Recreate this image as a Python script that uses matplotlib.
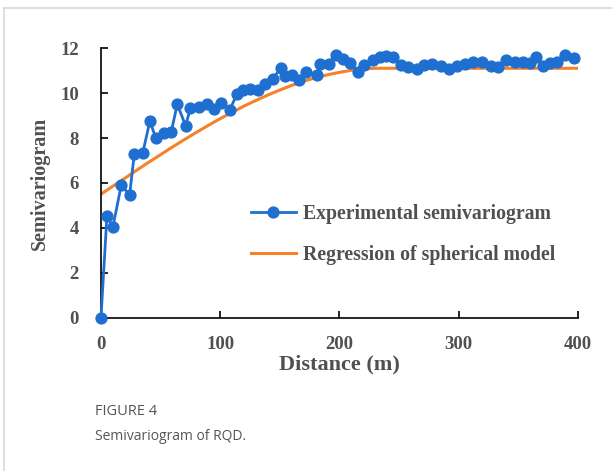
import matplotlib.pyplot as plt
from matplotlib.lines import Line2D

# experimental semivariogram (distance m, semivariance)
lag_dist = [0, 5, 10, 17, 24, 28, 35, 41, 46, 53, 59, 64, 71, 75, 82, 89, 95,
            101, 108, 114, 119, 125, 132, 138, 144, 151, 154, 160, 166, 172,
            181, 184, 191, 197, 203, 209, 216, 221, 228, 234, 239, 245, 252,
            258, 265, 271, 278, 285, 292, 299, 305, 312, 320, 327, 333, 340,
            347, 354, 360, 365, 371, 377, 383, 389, 397]
semivar = [0, 4.55, 4.05, 5.9, 5.47, 7.3, 7.32, 8.75, 8.0, 8.22, 8.28, 9.5,
           8.55, 9.32, 9.4, 9.52, 9.3, 9.57, 9.24, 9.95, 10.12, 10.2, 10.12,
           10.4, 10.62, 11.12, 10.75, 10.8, 10.6, 10.92, 10.78, 11.28, 11.3,
           11.7, 11.52, 11.32, 10.95, 11.24, 11.45, 11.62, 11.64, 11.6, 11.24,
           11.15, 11.08, 11.24, 11.3, 11.18, 11.08, 11.18, 11.3, 11.4, 11.4,
           11.2, 11.17, 11.48, 11.4, 11.4, 11.32, 11.6, 11.22, 11.32, 11.4,
           11.68, 11.55]

# fitted spherical model
model_dist = [0, 10, 20, 30, 40, 50, 60, 70, 80, 90, 100, 110, 120, 130, 140,
              150, 160, 170, 180, 190, 200, 210, 220, 230, 235, 300, 400]
model_val = [5.50, 5.86, 6.21, 6.57, 6.92, 7.26, 7.60, 7.93, 8.25, 8.56, 8.86,
             9.14, 9.42, 9.67, 9.91, 10.13, 10.34, 10.52, 10.68, 10.81, 10.92,
             11.01, 11.07, 11.10, 11.10, 11.10, 11.10]

x_ticks = [0, 100, 200, 300, 400]
y_ticks = [0, 2, 4, 6, 8, 10, 12]

BLUE = "#1f6fd0"
ORANGE = "#f5822a"
TXT = "#505050"
SERIF = "Liberation Serif"

fig = plt.figure(figsize=(6.12, 4.71), dpi=100)
ax = fig.add_axes([0.165, 0.325, 0.779, 0.573])

ax.plot(model_dist, model_val, color=ORANGE, lw=2.2, zorder=2)
ax.plot(lag_dist, semivar, color=BLUE, lw=2, marker="o", markersize=7.8,
        zorder=3, clip_on=False)

ax.set_xlim(0, 400)
ax.set_ylim(0, 12)
ax.set_xticks(x_ticks)
ax.set_yticks(y_ticks)
for s in ["top", "right"]:
    ax.spines[s].set_visible(False)
for s in ["left", "bottom"]:
    ax.spines[s].set_linewidth(1.2)
ax.tick_params(direction="in", length=5, width=1.2)
ax.tick_params(axis="x", pad=13)
ax.tick_params(axis="y", pad=16)
for lab in ax.get_xticklabels() + ax.get_yticklabels():
    lab.set_fontfamily(SERIF)
    lab.set_fontweight("bold")
    lab.set_fontsize(13.5)
    lab.set_color(TXT)

ax.set_xlabel("Distance (m)", family=SERIF, weight="bold", fontsize=16,
              color=TXT, labelpad=1)
ax.set_ylabel("Semivariogram", family=SERIF, weight="bold", fontsize=14.5,
              color=TXT, labelpad=7)

handles = [
    Line2D([], [], color=BLUE, lw=2, marker="o", markersize=7.8),
    Line2D([], [], color=ORANGE, lw=2.2),
]
leg = ax.legend(handles, ["Experimental semivariogram",
                          "Regression of spherical model"],
                loc="center left", bbox_to_anchor=(0.314, 0.31), frameon=False,
                borderpad=0, borderaxespad=0,
                handlelength=2.3, handletextpad=0.36, labelspacing=1.05,
                prop={"family": SERIF, "weight": "bold", "size": 14.2})
for t in leg.get_texts():
    t.set_color(TXT)

# card border and caption
fig.add_artist(Line2D([0.006, 0.006], [0, 0.983], color="#d8d8d8", lw=1.2))
fig.add_artist(Line2D([0.006, 1.0], [0.983, 0.983], color="#d8d8d8", lw=1.2))
fig.text(0.155, 0.118, "FIGURE 4", family="Open Sans", fontsize=10.5,
         color="#555555")
fig.text(0.155, 0.065, "Semivariogram of RQD.", family="Open Sans",
         fontsize=10, color="#555555")

fig.savefig("out.png", dpi=100)
